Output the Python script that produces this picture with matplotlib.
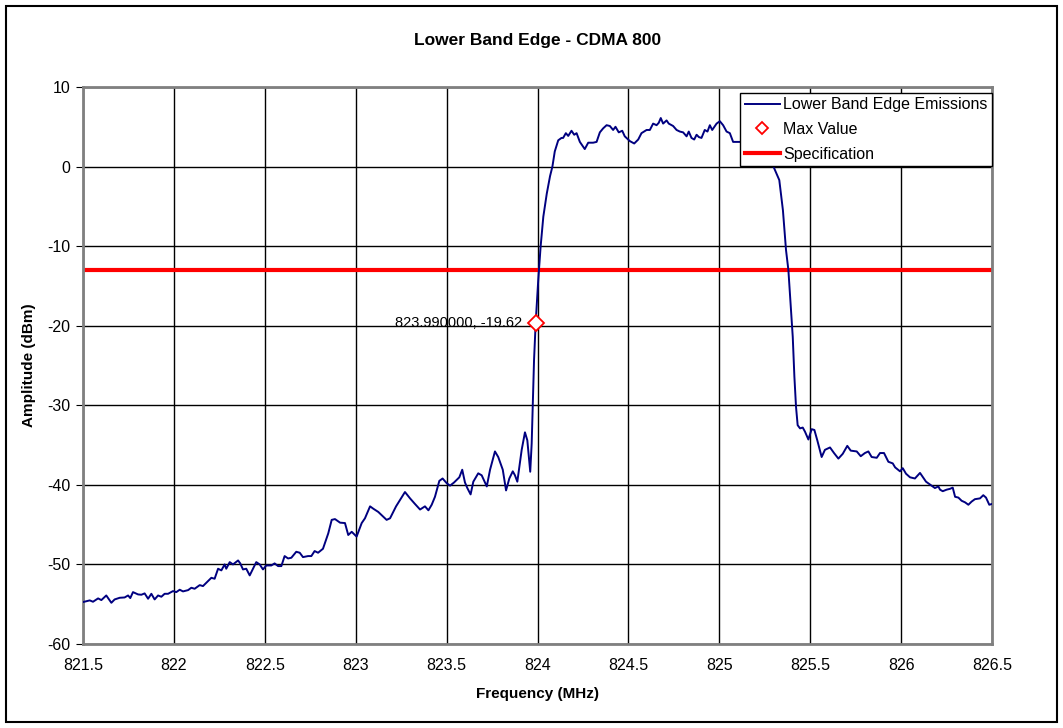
import numpy as np
import matplotlib
matplotlib.use('Agg')
import matplotlib.pyplot as plt
from matplotlib.patches import Rectangle

plt.rcParams['font.family'] = ['Liberation Sans', 'DejaVu Sans']
plt.rcParams['axes.unicode_minus'] = False

# trace (MHz, dBm)
freq = [821.500, 821.537, 821.555, 821.583, 821.601, 821.628, 821.656, 821.674, 821.702, 821.729,
        821.748, 821.760, 821.775, 821.803, 821.821, 821.839, 821.858, 821.876, 821.894, 821.913,
        821.931, 821.949, 821.968, 821.995, 822.013, 822.032, 822.050, 822.078, 822.096, 822.114,
        822.142, 822.160, 822.188, 822.206, 822.224, 822.243, 822.261, 822.279, 822.288, 822.307,
        822.325, 822.353, 822.365, 822.380, 822.398, 822.417, 822.435, 822.453, 822.472, 822.490,
        822.508, 822.536, 822.554, 822.573, 822.591, 822.609, 822.628, 822.646, 822.673, 822.692,
        822.710, 822.738, 822.756, 822.774, 822.793, 822.820,
        822.849, 822.868, 822.886, 822.914, 822.941, 822.959, 822.978, 823.005, 823.033, 823.051,
        823.079, 823.097, 823.124, 823.152, 823.170, 823.189,
        823.222, 823.271, 823.299, 823.326, 823.354, 823.381, 823.400, 823.418, 823.436, 823.460,
        823.478, 823.501, 823.519, 823.541, 823.570, 823.586, 823.601, 823.614, 823.632, 823.647,
        823.674, 823.693, 823.721, 823.739, 823.766, 823.784, 823.809, 823.827, 823.845, 823.864,
        823.876, 823.889, 823.913, 823.931, 823.944, 823.960, 823.968, 823.974, 823.981, 823.990,
        824.004, 824.017, 824.032, 824.051, 824.069, 824.082,
        824.095, 824.114, 824.132, 824.141, 824.156, 824.169, 824.187, 824.202, 824.215, 824.233,
        824.260, 824.279, 824.306, 824.325, 824.343, 824.361, 824.380, 824.398, 824.416, 824.429,
        824.447, 824.466, 824.480, 824.508, 824.532, 824.554, 824.572, 824.600, 824.618, 824.636,
        824.655, 824.667, 824.678, 824.691, 824.710, 824.722, 824.746, 824.765, 824.783, 824.801,
        824.820, 824.832, 824.847, 824.862, 824.875, 824.888, 824.902, 824.920, 824.935, 824.948,
        824.961, 824.985, 825.003, 825.021, 825.040, 825.058, 825.076, 825.095, 825.113, 825.131,
        825.144, 825.159, 825.168, 825.190, 825.220, 825.250, 825.275, 825.297, 825.330, 825.350,
        825.367, 825.380, 825.393, 825.404, 825.413, 825.422, 825.431, 825.444, 825.459, 825.471,
        825.490, 825.508, 825.523, 825.539, 825.563, 825.581, 825.609, 825.631, 825.655, 825.679,
        825.704, 825.723, 825.756, 825.778, 825.801, 825.820, 825.838, 825.866, 825.884, 825.906,
        825.930, 825.954, 825.967, 825.994, 826.009, 826.027, 826.049, 826.076, 826.104, 826.137,
        826.168, 826.186, 826.205, 826.214, 826.229, 826.251, 826.269, 826.284, 826.297, 826.315,
        826.333, 826.352, 826.370, 826.388, 826.406, 826.434, 826.452, 826.467, 826.485, 826.500]

amp = [-54.73, -54.52, -54.69, -54.27, -54.48, -53.90, -54.82, -54.40, -54.19, -54.15,
       -53.90, -54.23, -53.48, -53.77, -53.81, -53.64, -54.31, -53.69, -54.40, -53.90,
       -54.06, -53.69, -53.69, -53.35, -53.48, -53.18, -53.39, -53.23, -52.93, -53.06,
       -52.60, -52.72, -52.09, -51.68, -51.80, -50.54, -50.75, -50.00, -50.54, -49.71,
       -50.00, -49.50, -49.87, -50.63, -50.54, -51.38, -50.54, -49.71, -50.00, -50.63,
       -50.13, -50.13, -49.87, -50.21, -50.21, -48.95, -49.25, -49.16, -48.41, -48.53,
       -49.08, -48.95, -48.95, -48.32, -48.53, -48.03,
       -46.10, -44.40, -44.30, -44.75, -44.80, -46.30, -45.90, -46.50, -44.80, -44.20,
       -42.70, -43.00, -43.40, -44.00, -44.40, -44.20,
       -42.70, -40.90, -41.70, -42.40, -43.10, -42.70, -43.20, -42.50, -41.50, -39.50,
       -39.20, -39.80, -40.10, -39.70, -39.05, -38.10, -39.70, -40.40, -41.20, -39.60,
       -38.55, -38.80, -40.20, -38.10, -35.80, -36.50, -38.10, -40.70, -39.20, -38.30,
       -38.80, -39.60, -35.60, -33.40, -34.40, -38.35, -34.80, -29.80, -24.30, -19.62,
       -14.30, -10.10, -6.30, -3.40, -1.20, 0.00,
       1.90, 3.30, 3.60, 3.60, 4.20, 3.85, 4.50, 4.00, 4.20, 3.10,
       2.20, 3.00, 3.00, 3.10, 4.30, 4.80, 5.20, 5.10, 4.60, 5.00,
       4.30, 4.50, 3.80, 3.20, 2.90, 3.40, 4.20, 4.60, 4.60, 5.40,
       5.20, 5.50, 6.10, 5.40, 5.80, 5.40, 5.10, 4.60, 4.40, 4.30,
       3.80, 4.40, 3.60, 3.40, 4.00, 3.70, 3.60, 4.60, 4.40, 5.20,
       4.60, 5.40, 5.70, 5.20, 4.40, 4.20, 3.10, 3.10, 3.10, 3.00,
       2.30, 4.00, 4.20, 3.80, 3.50, 3.00, 2.00, 0.05, -1.70, -5.50,
       -10.50, -13.00, -17.60, -21.40, -26.40, -30.20, -32.50, -32.90, -32.80, -33.30,
       -34.30, -33.00, -33.10, -34.40, -36.50, -35.60, -35.30, -36.00, -36.70, -36.10,
       -35.10, -35.70, -35.80, -36.40, -36.00, -35.80, -36.50, -36.60, -36.00, -36.00,
       -37.10, -37.30, -37.80, -38.30, -37.90, -38.60, -39.05, -39.20, -38.50, -39.60,
       -40.10, -40.40, -40.20, -40.60, -40.80, -40.60, -40.50, -40.35, -41.50, -41.60,
       -42.00, -42.20, -42.50, -42.10, -41.80, -41.70, -41.30, -41.60, -42.50, -42.40]

max_freq = 823.99
max_amp = -19.62
spec_limit = -13

xticks = [821.5, 822, 822.5, 823, 823.5, 824, 824.5, 825, 825.5, 826, 826.5]
xlabels = ['821.5', '822', '822.5', '823', '823.5', '824', '824.5', '825', '825.5', '826', '826.5']
yticks = [10, 0, -10, -20, -30, -40, -50, -60]

fig = plt.figure(figsize=(10.63, 7.28), dpi=100)
ax = fig.add_axes([83 / 1063, 1 - 644 / 728, 909 / 1063, 557 / 728])

# outer chart frame
fig.patches.append(Rectangle((6 / 1063, 6 / 728), 1051 / 1063, 716 / 728,
                             transform=fig.transFigure, fill=False,
                             edgecolor='black', linewidth=1.5))

ax.plot(freq, amp, color='#000080', linewidth=1.4, label='Lower Band Edge Emissions', zorder=3)
ax.plot([max_freq], [max_amp], linestyle='none', marker='D', markersize=8,
        markerfacecolor='white', markeredgecolor='red', markeredgewidth=1.3,
        label='Max Value', zorder=4)
ax.axhline(spec_limit, color='red', linewidth=3, label='Specification', zorder=2)

ax.annotate(f'{max_freq:.6f}, {max_amp:.2f}', xy=(max_freq, max_amp),
            xytext=(-10, 0), textcoords='offset points', ha='right', va='center', fontsize=10.5)

ax.set_xlim(821.5, 826.5)
ax.set_ylim(-60, 10)
ax.set_xticks(xticks)
ax.set_xticklabels(xlabels)
ax.set_yticks(yticks)
ax.tick_params(axis='x', length=0, pad=10, labelsize=11.5)
ax.tick_params(axis='y', length=5, direction='out', labelsize=11.5, pad=4)
ax.grid(True, color='black', linewidth=1)
ax.set_axisbelow(True)
for s in ax.spines.values():
    s.set_color('#808080')
    s.set_linewidth(2)

ax.set_title('Lower Band Edge - CDMA 800', fontsize=12.5, fontweight='bold', pad=30)
ax.set_xlabel('Frequency (MHz)', fontsize=11, fontweight='bold', labelpad=10)
ax.set_ylabel('Amplitude (dBm)', fontsize=11, fontweight='bold', labelpad=8)

leg = ax.legend(loc='upper right', bbox_to_anchor=(1.0, 0.99), fontsize=11.5,
                frameon=True, fancybox=False, framealpha=1, edgecolor='black',
                borderpad=0.3, labelspacing=0.6, handlelength=2.2, handletextpad=0.2,
                borderaxespad=0.0, markerscale=0.8)
leg.get_frame().set_linewidth(1)
leg.set_zorder(10)

fig.savefig('out.png', dpi=100)
